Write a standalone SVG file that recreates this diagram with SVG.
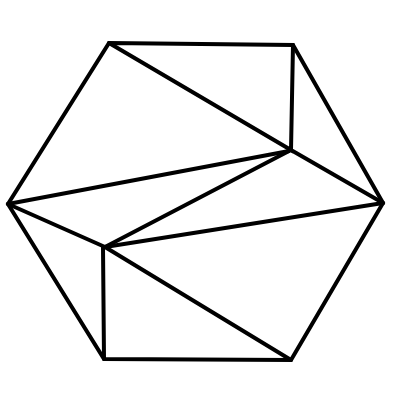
<svg xmlns="http://www.w3.org/2000/svg" width="400" height="400" viewBox="0 0 400 400">
<style>.l{fill:none;stroke:#000;stroke-width:4;stroke-linejoin:miter;stroke-linecap:round}</style>
<rect width="400" height="400" fill="#fff"/>
<g id="connectors">
<polygon class="l" points="109,43 293,45 383,203 291,360 104,359 8,204"/>
<polyline class="l" points="109,43 291,150 293,45"/>
<line class="l" x1="291" y1="150" x2="383" y2="203"/>
<line class="l" x1="8" y1="204" x2="289" y2="151"/>
<line class="l" x1="8" y1="204" x2="105" y2="247"/>
<line class="l" x1="105" y1="247" x2="289" y2="151"/>
<line class="l" x1="105" y1="247" x2="383" y2="203"/>
<line class="l" x1="103" y1="247" x2="104" y2="359"/>
<line class="l" x1="105" y1="247" x2="291" y2="360"/>
</g>
</svg>
